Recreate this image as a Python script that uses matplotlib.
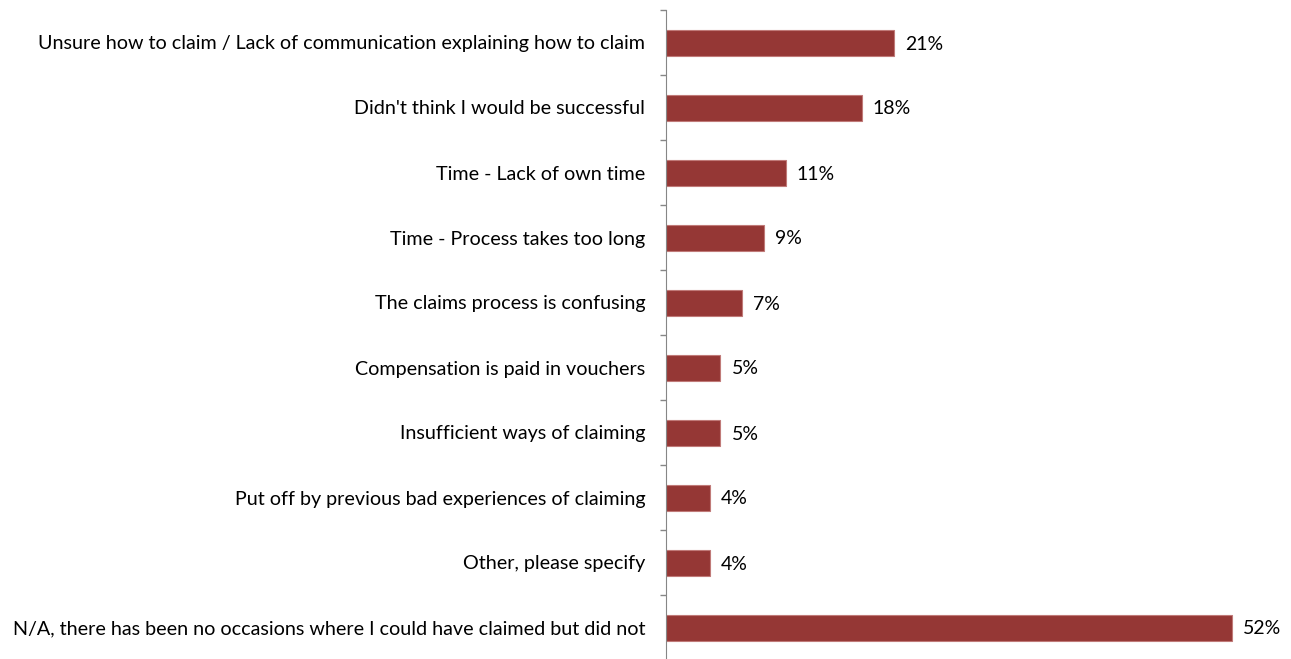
import matplotlib
matplotlib.use("Agg")
import matplotlib.pyplot as plt
import numpy as np

categories = [
    "Unsure how to claim / Lack of communication explaining how to claim",
    "Didn't think I would be successful",
    "Time - Lack of own time",
    "Time - Process takes too long",
    "The claims process is confusing",
    "Compensation is paid in vouchers",
    "Insufficient ways of claiming",
    "Put off by previous bad experiences of claiming",
    "Other, please specify",
    "N/A, there has been no occasions where I could have claimed but did not",
]
values = [21, 18, 11, 9, 7, 5, 5, 4, 4, 52]

plt.rcParams["font.family"] = ["Lato", "DejaVu Sans"]

fig = plt.figure(figsize=(12.91, 6.59), dpi=100)
ax = fig.add_axes([666 / 1291, -1 / 659, 1 - 666 / 1291, 650 / 659])

y = np.arange(len(categories))
ax.barh(y, values, height=0.4, color="#953735", edgecolor="#c07a78", linewidth=0.8)

for yi, v in zip(y, values):
    ax.annotate(f"{v}%", (v, yi), xytext=(8, 0), textcoords="offset points",
                va="center_baseline", ha="left", fontsize=14, color="black")

ax.set_xlim(0, (1291 - 666) / 10.88)
ax.set_ylim(len(categories) - 0.5, -0.5)

ax.set_yticks(y)
ax.set_yticklabels(categories, fontsize=14.25, va="center_baseline")
ax.set_yticks(np.arange(len(categories) + 1) - 0.5, minor=True)
ax.tick_params(axis="y", which="major", length=0, pad=15)
ax.tick_params(axis="y", which="minor", length=4.5, color="#868686", width=1)
ax.set_xticks([])

for s in ["top", "right", "bottom"]:
    ax.spines[s].set_visible(False)
ax.spines["left"].set_color("#868686")

fig.savefig("out.png", dpi=100)
